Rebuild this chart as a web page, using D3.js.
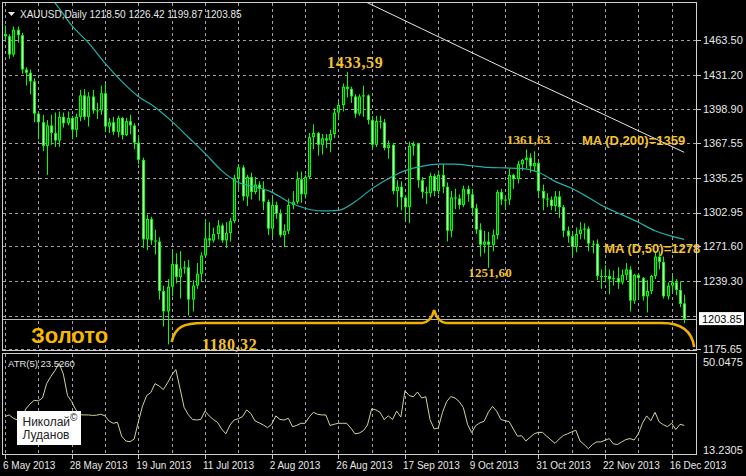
<!DOCTYPE html>
<html lang="ru">
<head>
<meta charset="UTF-8">
<title>XAUUSD Daily</title>
<script src="https://d3js.org/d3.v7.min.js"></script>
<style>
  body { margin: 0; background: #000; }
  svg { display: block; }
</style>
</head>
<body>
<svg id="chart" width="746" height="476"></svg>
<script>
// daily bars, 6 May 2013 .. 19 Dec 2013
const opens = [1469,1467,1450,1473,1468,1436,1433,1425,1395,1387,
  1365,1384,1377,1370,1392,1386,1391,1380,1392,1412,
  1392,1411,1398,1398,1414,1383,1387,1378,1391,1375,
  1388,1384,1368,1352,1278,1297,1277,1276,1230,1211,
  1234,1255,1243,1251,1252,1222,1235,1246,1263,1279,
  1277,1283,1291,1277,1284,1295,1335,1345,1318,1336,
  1322,1329,1325,1313,1288,1310,1302,1282,1286,1310,
  1313,1334,1320,1336,1373,1377,1366,1372,1370,1376,
  1396,1403,1420,1418,1411,1395,1411,1412,1389,1366,
  1388,1387,1363,1366,1323,1327,1317,1308,1365,1367,
  1333,1322,1321,1337,1323,1338,1327,1286,1317,1316,
  1310,1325,1320,1307,1287,1273,1276,1273,1282,1322,
  1315,1315,1338,1334,1348,1352,1354,1346,1349,1323,
  1316,1315,1309,1318,1308,1286,1281,1271,1283,1287,
  1288,1274,1274,1244,1243,1244,1241,1242,1238,1245,
  1250,1221,1245,1242,1225,1230,1244,1262,1257,1225,
  1235,1238,1231,1218.50];
const highs = [1477,1469,1476,1476,1470,1438,1436,1428,1396,1394,
  1389,1394,1396,1397,1396,1397,1393,1395,1417,1418,
  1415,1417,1405,1421,1423,1391,1392,1393,1392,1391,
  1394,1386,1375,1354,1301,1299,1287,1280,1235,1241,
  1267,1265,1267,1258,1259,1240,1256,1266,1296,1294,
  1289,1296,1293,1294,1298,1338,1348,1347,1338,1340,
  1336,1332,1332,1315,1317,1313,1306,1292,1316,1323,
  1341,1341,1338,1377,1385,1378,1376,1376,1380,1400,
  1406,1423,1433.59,1420,1413,1413,1421,1413,1393,1393,
  1393,1390,1370,1368,1333,1332,1319,1369,1369,1368,
  1336,1327,1340,1339,1342,1348,1331,1323,1325,1320,
  1328,1328,1325,1311,1293,1286,1285,1287,1324,1325,
  1319,1344,1339,1351,1353,1361.63,1358,1360,1350,1329,
  1321,1318,1323,1323,1310,1290,1285,1289,1294,1293,
  1290,1277,1278,1250,1254,1250,1249,1252,1250,1256,
  1253,1246,1246,1243,1240,1245,1266,1267,1262,1238,
  1245,1241,1239,1226.42];
const lows = [1463,1446,1448,1461,1432,1421,1413,1387,1371,1360,
  1338,1366,1364,1364,1382,1384,1371,1373,1388,1389,
  1383,1395,1390,1394,1378,1377,1375,1373,1371,1374,
  1376,1362,1348,1270,1268,1273,1264,1222,1197,1180.32,
  1225,1237,1223,1246,1207,1211,1232,1239,1263,1272,
  1275,1278,1275,1270,1276,1293,1325,1314,1309,1315,
  1320,1314,1305,1282,1280,1297,1280,1271,1283,1306,
  1311,1312,1316,1334,1362,1356,1357,1363,1359,1372,
  1389,1397,1410,1405,1391,1393,1392,1385,1362,1364,
  1381,1361,1353,1320,1308,1305,1297,1293,1356,1326,
  1316,1311,1317,1318,1320,1321,1276,1280,1306,1306,
  1308,1313,1302,1283,1262,1265,1251.60,1267,1278,1310,
  1306,1310,1325,1330,1342,1344,1340,1341,1318,1305,
  1308,1305,1304,1298,1280,1275,1262,1266,1278,1278,
  1267,1265,1240,1232,1238,1227,1235,1232,1236,1240,
  1211,1218,1223,1221,1210,1227,1241,1250,1223,1222,
  1230,1226,1215,1199.87];
const closes = [1467,1450,1473,1468,1436,1433,1425,1395,1387,1365,
  1384,1377,1370,1392,1386,1391,1380,1392,1412,1392,
  1411,1398,1398,1414,1383,1387,1378,1391,1375,1388,
  1384,1368,1352,1278,1297,1277,1276,1230,1211,1234,
  1255,1243,1251,1252,1222,1235,1246,1263,1279,1277,
  1283,1291,1277,1284,1295,1335,1345,1318,1336,1322,
  1329,1325,1313,1288,1310,1302,1282,1286,1310,1313,
  1334,1320,1336,1373,1377,1366,1372,1370,1376,1396,
  1403,1420,1418,1411,1395,1411,1412,1389,1366,1388,
  1387,1363,1366,1323,1327,1317,1308,1365,1367,1333,
  1322,1321,1337,1323,1338,1327,1286,1317,1316,1310,
  1325,1320,1307,1287,1273,1276,1273,1282,1322,1315,
  1315,1338,1334,1348,1352,1354,1346,1349,1323,1316,
  1315,1309,1318,1308,1286,1281,1271,1283,1287,1288,
  1274,1274,1244,1243,1244,1241,1242,1238,1245,1250,
  1221,1245,1242,1225,1230,1244,1262,1257,1225,1235,
  1238,1231,1218,1203.85];

// ATR(5) per bar
const atr5 = [27.2,27.9,26.5,25.8,26.5,30.4,32.5,34,33.8,35,
  41,44,46.5,49.5,45,36,33.5,30,28,27.9,
  27.9,27.7,27.8,28.2,27.5,25.3,24.4,24.8,19,17,
  16.7,17.8,25,31.6,36,37.3,41,40,38.5,41.3,
  44.5,46.9,39,31,28,26,25.8,26,29.5,27.5,
  26,24.8,22,20,23.7,25.8,26.3,27.2,30,28.5,
  25.4,24.6,23.7,22.6,24,27.5,26,25.8,26.5,23,
  23.5,24.4,24.4,27,29,28.2,27.9,27.9,23.5,24,
  24.4,24.4,24.4,22.4,20,20.3,21.3,23.7,30.5,30,
  29,26,27.5,26,29.5,27,38,36,35.5,37.5,
  35,35.5,26,22,22.5,29,33.5,35.6,35,33.5,
  31,24,20.5,23.5,24.6,25.3,29,31.5,29.5,26,
  25.5,25.1,22,19,19.2,17,18.5,20,20.6,20.6,
  19,17.5,16,17.8,19.3,20,20.8,21.5,17,15.5,
  13.8,15.5,16.6,16.6,17.3,18,15.8,15.5,16.6,17.6,
  18,17.4,20,24.5,27.5,25.5,29,25,23.8,23,
  24.4,21.8,24,23.526];

// moving averages (sampled bars)
const ma50Bars = [8,12,16,20,24,28,32,36,40,44,48,52,56,60,64,68,72,76,80,84,
  88,92,96,100,104,108,112,116,120,124,128,132,136,140,144,148,152,156,160,163];
const ma50Values = [1514,1498,1477,1461,1442,1425,1411,1401,1388,1373,1358,1342,1331,1327,1322,1313,1307,1304.5,1305,1313,
  1325,1334.5,1342,1346,1348,1348,1346.5,1345,1344.5,1344,1340.5,1332,1325.5,1317,1308,1301,1294,1286,1281,1278];
const ma200Bars = [86, 100, 120, 140, 163];
const ma200Values = [1500, 1474, 1437, 1401, 1359];

// marked extremes (bar index)
const peakBars = [82, 125];
const troughBars = [39, 116];

const priceTicks = [1463.50, 1431.20, 1398.90, 1367.55, 1335.25, 1302.95, 1271.60, 1239.30, 1207.00, 1175.65];
const atrTicks = [50.0475, 13.2305];
const dateBars = [0, 16, 32, 48, 64, 80, 96, 112, 128, 144, 160];
const dateLabels = ["6 May 2013", "28 May 2013", "19 Jun 2013", "11 Jul 2013", "2 Aug 2013", "26 Aug 2013",
  "17 Sep 2013", "9 Oct 2013", "31 Oct 2013", "22 Nov 2013", "16 Dec 2013"];

const svg = d3.select("#chart");
const main = { left: 3, right: 697, top: 3, bottom: 351 };
const sub = { top: 354, bottom: 455 };
const last = closes.length - 1;

const x = d3.scaleLinear().domain([0, 163]).range([5, 684.17]);
const y = d3.scaleLinear().domain([1175.65, 1463.5]).range([349.4, 40]);
const yAtr = d3.scaleLinear().domain([13.2305, 50.0475]).range([450, 362]);

svg.append("rect").attr("width", 746).attr("height", 476).attr("fill", "#000");

const defs = svg.append("defs");
defs.append("clipPath").attr("id", "clipMain").append("rect")
  .attr("x", main.left).attr("y", main.top)
  .attr("width", main.right - main.left).attr("height", main.bottom - main.top);
defs.append("clipPath").attr("id", "clipSub").append("rect")
  .attr("x", main.left).attr("y", sub.top)
  .attr("width", main.right - main.left).attr("height", sub.bottom - sub.top);

const gridColor = "#a0a0a0";
const vBars = d3.range(0, 161, 8);

// grid main
const gMain = svg.append("g").attr("clip-path", "url(#clipMain)");
gMain.selectAll(".vg").data(vBars).enter().append("line")
  .attr("x1", d => Math.round(x(d)) + 0.5).attr("x2", d => Math.round(x(d)) + 0.5)
  .attr("y1", main.top).attr("y2", main.bottom)
  .attr("stroke", gridColor).attr("stroke-dasharray", "3,3");
gMain.selectAll(".hg").data(priceTicks).enter().append("line")
  .attr("x1", main.left).attr("x2", main.right)
  .attr("y1", d => Math.round(y(d)) + 0.5).attr("y2", d => Math.round(y(d)) + 0.5)
  .attr("stroke", gridColor).attr("stroke-dasharray", "3,3");

// current price line
gMain.append("line")
  .attr("x1", main.left).attr("x2", main.right)
  .attr("y1", Math.round(y(closes[last])) + 0.5).attr("y2", Math.round(y(closes[last])) + 0.5)
  .attr("stroke", "#b8b8b8");

// candles
const bars = d3.range(closes.length);
const cg = gMain.append("g");
bars.forEach(i => {
  const xi = Math.round(x(i));
  const top = y(Math.max(opens[i], closes[i]));
  const bot = y(Math.min(opens[i], closes[i]));
  cg.append("line")
    .attr("x1", xi + 0.5).attr("x2", xi + 0.5)
    .attr("y1", y(highs[i])).attr("y2", y(lows[i]))
    .attr("stroke", "#00ff00");
  cg.append("rect")
    .attr("x", xi - 1).attr("width", 3)
    .attr("y", top).attr("height", Math.max(1, bot - top))
    .attr("fill", "#00ff00");
  if (bot - top > 2) {
    cg.append("rect")
      .attr("x", xi).attr("width", 1)
      .attr("y", top + 1).attr("height", bot - top - 2)
      .attr("fill", closes[i] >= opens[i] ? "#0a5a0a" : "#d6ffd6");
  }
});

// MA lines
gMain.append("path")
  .datum(ma50Bars.map((b, k) => [b, ma50Values[k]]))
  .attr("d", d3.line().x(d => x(d[0])).y(d => y(d[1])).curve(d3.curveMonotoneX))
  .attr("fill", "none").attr("stroke", "#20b2aa").attr("stroke-width", 1.2);
gMain.append("path")
  .datum(ma200Bars.map((b, k) => [b, ma200Values[k]]))
  .attr("d", d3.line().x(d => x(d[0])).y(d => y(d[1])))
  .attr("fill", "none").attr("stroke", "#e6e6e6").attr("stroke-width", 1);

// header
svg.append("path").attr("d", "M8,12 L15,12 L11.5,16 Z").attr("fill", "#e8e8e8");
const f2 = d3.format(".2f");
svg.append("text")
  .attr("x", 20).attr("y", 17.5)
  .style("font-family", "'Liberation Sans', Arial, sans-serif").style("font-size", "10px")
  .attr("fill", "#e8e8e8")
  .text(`XAUUSD,Daily  ${f2(opens[last])} ${f2(highs[last])} ${f2(lows[last])} ${f2(closes[last])}`);

// annotations
const noteColor = "#f3c22c";
const comma = v => f2(v).replace(".", ",");
const notes = [
  { bar: peakBars[0], v: highs[peakBars[0]], dx: 8.5, dy: -4, size: 16, anchor: "middle" },
  { bar: troughBars[0], v: lows[troughBars[0]], dx: 34.5, dy: 5.6, size: 16, anchor: "start" },
  { bar: troughBars[1], v: lows[troughBars[1]], dx: 1.7, dy: 9.2, size: 13, anchor: "middle" },
  { bar: peakBars[1], v: highs[peakBars[1]], dx: 2.7, dy: -5.5, size: 13, anchor: "middle" }
];
notes.forEach(n => {
  svg.append("text")
    .attr("x", x(n.bar) + n.dx).attr("y", y(n.v) + n.dy)
    .attr("text-anchor", n.anchor)
    .style("font-family", "'Liberation Serif', 'Times New Roman', serif")
    .style("font-size", n.size + "px").style("font-weight", "bold")
    .style("letter-spacing", n.size > 14 ? "0.6px" : "0.2px")
    .attr("fill", noteColor)
    .text(comma(n.v));
});

const ma200Last = ma200Values[ma200Values.length - 1];
const ma50Last = ma50Values[ma50Values.length - 1];
svg.append("text")
  .attr("x", x(163) + 1).attr("y", y(ma200Last) - 7)
  .attr("text-anchor", "end")
  .style("font-family", "'Liberation Sans', Arial, sans-serif").style("font-size", "13px").style("font-weight", "bold")
  .attr("fill", noteColor)
  .text(`MA (D,200)=${Math.round(ma200Last)}`);
svg.append("text")
  .attr("x", x(163) + 16).attr("y", y(ma50Last) + 14)
  .attr("text-anchor", "end")
  .style("font-family", "'Liberation Sans', Arial, sans-serif").style("font-size", "13px").style("font-weight", "bold")
  .attr("fill", noteColor)
  .text(`MA (D,50)=${Math.round(ma50Last)}`);

// brace under the range
const bL = x(40), bT = x(103), bR = x(165.4);
const yLev = 323, yTip = 310;
svg.append("path")
  .attr("d", `M${bL},342 C${bL + 3},327 ${bL + 12},${yLev} ${bL + 32},${yLev} L${bT - 12},${yLev} ` +
    `Q${bT - 3},${yLev - 1} ${bT},${yTip} Q${bT + 3},${yLev - 1} ${bT + 12},${yLev} ` +
    `L${bR - 32},${yLev} C${bR - 10},${yLev} ${bR - 2},333 ${bR},347`)
  .attr("fill", "none").attr("stroke", "#f0b000").attr("stroke-width", 2.6);

svg.append("text")
  .attr("x", 31).attr("y", 343)
  .style("font-family", "'Liberation Sans', Arial, sans-serif").style("font-size", "22px").style("font-weight", "bold")
  .attr("fill", "#f7b800")
  .text("Золото");

// ATR panel
const gSub = svg.append("g").attr("clip-path", "url(#clipSub)");
gSub.selectAll(".vg2").data(vBars).enter().append("line")
  .attr("x1", d => Math.round(x(d)) + 0.5).attr("x2", d => Math.round(x(d)) + 0.5)
  .attr("y1", sub.top).attr("y2", sub.bottom)
  .attr("stroke", gridColor).attr("stroke-dasharray", "3,3");
gSub.append("path")
  .datum(atr5)
  .attr("d", d3.line().x((d, i) => x(i)).y(d => yAtr(d)))
  .attr("fill", "none").attr("stroke", "#d2d29c").attr("stroke-width", 1);

svg.append("text")
  .attr("x", 8).attr("y", 367)
  .style("font-family", "'Liberation Sans', Arial, sans-serif").style("font-size", "9.5px")
  .attr("fill", "#e0e0e0")
  .text(`ATR(5) ${d3.format(".4f")(atr5[last])}`);

// signature box
svg.append("rect").attr("x", 17).attr("y", 411).attr("width", 64).attr("height", 34).attr("fill", "#fff");
const sig = svg.append("g")
  .style("font-family", "'Liberation Sans', Arial, sans-serif").attr("fill", "#222");
sig.append("text").attr("x", 22.5).attr("y", 426).style("font-size", "12px").text("Николай");
sig.append("text").attr("x", 22.5).attr("y", 438.5).style("font-size", "12px").text("Луданов");
sig.append("text").attr("x", 70).attr("y", 421).style("font-size", "10px").text("©");

// panel borders
svg.append("rect").attr("x", main.left - 0.5).attr("y", main.top - 0.5)
  .attr("width", main.right - main.left).attr("height", main.bottom - main.top)
  .attr("fill", "none").attr("stroke", "#d0d0d0");
svg.append("rect").attr("x", main.left - 0.5).attr("y", sub.top - 0.5)
  .attr("width", main.right - main.left).attr("height", sub.bottom - sub.top)
  .attr("fill", "none").attr("stroke", "#d0d0d0");

// right price axis
const axisFont = "'Liberation Sans', Arial, sans-serif";
const curY = y(closes[last]);
const shown = priceTicks.filter(v => Math.abs(y(v) - curY) > 8);
const ax = svg.append("g").style("font-family", axisFont).style("font-size", "11px").attr("fill", "#e8e8e8");
shown.forEach(v => {
  ax.append("line").attr("x1", main.right).attr("x2", main.right + 4)
    .attr("y1", Math.round(y(v)) + 0.5).attr("y2", Math.round(y(v)) + 0.5).attr("stroke", "#c8c8c8");
  ax.append("text").attr("x", 703).attr("y", y(v)).attr("dy", "0.35em").text(f2(v));
});
ax.append("rect").attr("x", 699).attr("y", curY - 7).attr("width", 45).attr("height", 13).attr("fill", "#fff");
ax.append("text").attr("x", 702).attr("y", curY).attr("dy", "0.35em").attr("fill", "#000").text(f2(closes[last]));
atrTicks.forEach(v => {
  ax.append("text").attr("x", 703).attr("y", yAtr(v)).attr("dy", "0.35em").text(d3.format(".4f")(v));
});

// date axis
const dx = svg.append("g").style("font-family", axisFont).style("font-size", "10px").attr("fill", "#e8e8e8");
dateBars.forEach((b, k) => {
  dx.append("line").attr("x1", Math.round(x(b)) + 0.5).attr("x2", Math.round(x(b)) + 0.5)
    .attr("y1", sub.bottom).attr("y2", sub.bottom + 4).attr("stroke", "#c8c8c8");
  dx.append("text").attr("x", x(b) - 2).attr("y", 469).text(dateLabels[k]);
});
</script>
</body>
</html>
